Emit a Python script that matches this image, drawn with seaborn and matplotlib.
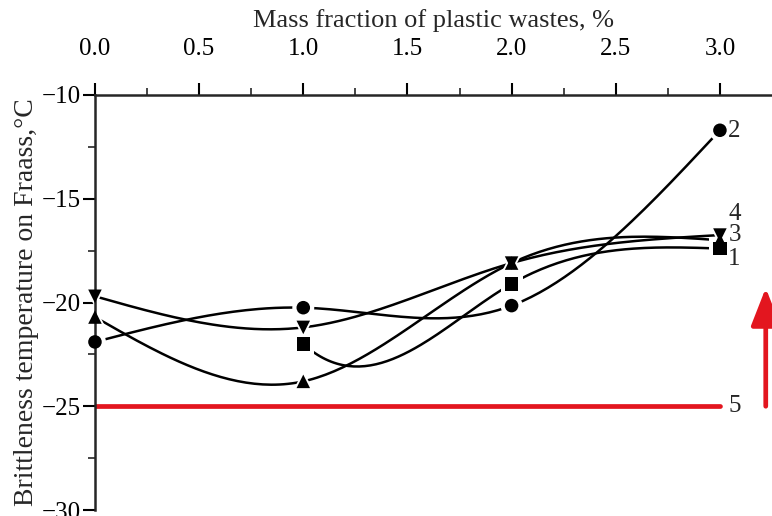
import numpy as np
import pandas as pd
import matplotlib
matplotlib.use("Agg")
import matplotlib.pyplot as plt
import seaborn as sns

# ---- data ----
x_full = [0.0, 1.0, 2.0, 3.0]
x_s1 = [1.0, 2.0, 3.0]
s1_square = [-22.0, -19.1, -17.4]          # curve 1
s2_circle = [-21.9, -20.25, -20.15, -11.7]  # curve 2
s3_tri_up = [-20.7, -23.8, -18.1, -17.0]    # curve 3
s4_tri_dn = [-19.7, -21.2, -18.1, -16.75]   # curve 4
ref_x = [0.0, 3.0]
ref_y = [-25.0, -25.0]                      # line 5
x_ticks = [0.0, 0.5, 1.0, 1.5, 2.0, 2.5, 3.0]
y_ticks = [-10, -15, -20, -25, -30]
end_labels = ["1", "2", "3", "4", "5"]


def smooth(xs, ys, num=150, start_slope=None):
    xs = np.asarray(xs, float)
    ys = np.asarray(ys, float)
    n = len(xs)
    h = np.diff(xs)
    A = np.zeros((n, n))
    r = np.zeros(n)
    for i in range(1, n - 1):
        A[i, i - 1] = h[i - 1]
        A[i, i] = 2 * (h[i - 1] + h[i])
        A[i, i + 1] = h[i]
        r[i] = 6 * ((ys[i + 1] - ys[i]) / h[i] - (ys[i] - ys[i - 1]) / h[i - 1])
    if start_slope is None:
        A[0, 0] = 1.0
    else:
        A[0, 0] = 2 * h[0]
        A[0, 1] = h[0]
        r[0] = 6 * ((ys[1] - ys[0]) / h[0] - start_slope)
    A[n - 1, n - 1] = 1.0
    M = np.linalg.solve(A, r)
    xx = np.linspace(xs[0], xs[-1], num)
    idx = np.clip(np.searchsorted(xs, xx) - 1, 0, n - 2)
    x0, x1 = xs[idx], xs[idx + 1]
    hh = x1 - x0
    a = (x1 - xx) / hh
    b = (xx - x0) / hh
    yy = (a * ys[idx] + b * ys[idx + 1]
          + ((a ** 3 - a) * M[idx] + (b ** 3 - b) * M[idx + 1]) * hh ** 2 / 6)
    return xx, yy


series = [
    ("1", x_s1, s1_square, "s", -9.0),
    ("2", x_full, s2_circle, "o", None),
    ("3", x_full, s3_tri_up, "^", None),
    ("4", x_full, s4_tri_dn, "v", None),
]

curve_rows = []
point_rows = []
for name, xs, ys, mk, slope in series:
    cx, cy = smooth(xs, ys, start_slope=slope)
    for a, b in zip(cx, cy):
        curve_rows.append({"series": name, "x": a, "y": b})
    for a, b in zip(xs, ys):
        point_rows.append({"series": name, "x": a, "y": b})
curves = pd.DataFrame(curve_rows)
points = pd.DataFrame(point_rows)
ref = pd.DataFrame({"x": ref_x, "y": ref_y})

sns.set_style("ticks")
plt.rcParams["font.family"] = ["Liberation Serif", "DejaVu Serif"]

fig = plt.figure(figsize=(7.72, 5.16), dpi=100)
ax = fig.add_axes([0.123, 0.0116, 0.877, 0.8043])

red = "#e3161f"
sns.lineplot(data=ref, x="x", y="y", color=red, lw=3.4, ax=ax, zorder=1)
sns.lineplot(data=curves, x="x", y="y", units="series", estimator=None,
             sort=False, color="black", lw=1.8, ax=ax, zorder=2)

mk_map = {name: mk for name, _, _, mk, _ in series}
sns.scatterplot(data=points, x="x", y="y", style="series", markers=mk_map,
                color="white", s=250, linewidth=0, legend=False, ax=ax,
                zorder=2.2, clip_on=False)
sns.scatterplot(data=points, x="x", y="y", style="series", markers=mk_map,
                color="black", s=95, linewidth=0, legend=False, ax=ax,
                zorder=4, clip_on=False)

# end labels
fs = 18
ax.text(3.04, s1_square[-1] - 0.5, end_labels[0], fontsize=fs, va="center", ha="left")
ax.text(3.04, s2_circle[-1] - 0.05, end_labels[1], fontsize=fs, va="center", ha="left")
ax.text(3.04, s3_tri_up[-1] + 0.25, end_labels[2], fontsize=fs, va="center", ha="left")
ax.text(3.04, s4_tri_dn[-1] + 1.0, end_labels[3], fontsize=fs, va="center", ha="left")
ax.text(3.04, ref_y[-1], end_labels[4], fontsize=fs, va="center", ha="left")

# red arrow
ax.annotate("", xy=(3.22, -19.3), xytext=(3.22, -25.0),
            arrowprops=dict(arrowstyle="-|>,head_length=2.3,head_width=0.9",
                            color=red, lw=3.4, shrinkA=0, shrinkB=0),
            annotation_clip=False)

ax.set_xlim(0, 3.25)
ax.set_ylim(-30, -10)
ax.xaxis.tick_top()
ax.xaxis.set_label_position("top")
ax.set_xticks(x_ticks)
ax.set_xticklabels([f"{v:.1f}" for v in x_ticks])
ax.set_xticks(np.arange(0.25, 3.0, 0.5), minor=True)
ax.set_yticks(y_ticks)
ax.set_yticklabels([f"\u2212{abs(v)}" for v in y_ticks])
ax.set_yticks([-12.5, -17.5, -22.5, -27.5], minor=True)
ax.set_xlabel("Mass fraction of plastic wastes, %", fontsize=19, labelpad=8)
ax.set_ylabel("Brittleness temperature on Fraass,\u00b0C", fontsize=20, labelpad=2)

for side in ["bottom", "right"]:
    ax.spines[side].set_visible(False)
for side in ["top", "left"]:
    ax.spines[side].set_linewidth(1.8)
    ax.spines[side].set_zorder(2.6)
ax.tick_params(axis="both", which="major", direction="out", length=9,
               width=1.5, labelsize=18, color="black", labelcolor="black")
ax.tick_params(axis="both", which="minor", direction="out", length=5, width=1.2)
ax.tick_params(axis="x", which="both", top=True, bottom=False)
ax.tick_params(axis="x", which="major", pad=16)
ax.tick_params(axis="y", which="both", left=True, right=False)
ax.tick_params(axis="y", which="major", pad=1)

fig.savefig("out.png", dpi=100)
